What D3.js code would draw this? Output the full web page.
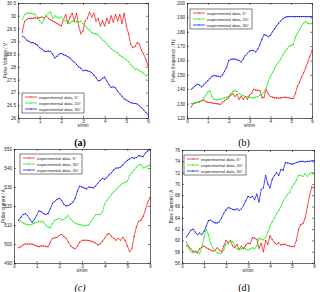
<!DOCTYPE html>
<html><head><meta charset="utf-8">
<script src="https://cdn.jsdelivr.net/npm/d3@7"></script>
<style>body{margin:0;background:#fff}svg{display:block}</style>
</head><body>
<svg id="c" width="320" height="292"></svg>
<script>
const xs=[0.2,0.3,0.4,0.5,0.6,0.7,0.8,0.9,1.0,1.1,1.2,1.3,1.4,1.5,1.6,1.7,1.8,1.9,2.0,2.1,2.2,2.3,2.4,2.5,2.6,2.7,2.8,2.9,3.0,3.1,3.2,3.3,3.4,3.5,3.6,3.7,3.8,3.9,4.0,4.1,4.2,4.3,4.4,4.5,4.6,4.7,4.8,4.9,5.0,5.1,5.2,5.3,5.4,5.5,5.6,5.7,5.8,5.9,6.0];
const xTicks=[0,1,2,3,4,5,6];

// (a) Pulse Voltage
const aRed=[29.36,29.78,29.85,29.9,29.9,29.9,29.92,29.9,29.93,29.95,29.92,30.0,29.9,29.85,29.8,29.75,29.7,29.65,29.6,29.85,30.05,29.7,29.95,30.1,29.8,30.1,29.6,29.3,29.4,29.8,29.9,30.15,29.95,30.1,29.8,29.9,29.6,29.8,29.6,29.9,29.7,30.0,29.75,30.05,29.8,30.05,29.7,30.1,29.6,29.3,28.9,28.75,28.8,28.95,28.9,28.65,28.5,28.3,28.05];
const aGreen=[29.85,30.05,30.1,30.1,30.1,30.08,30.05,29.95,29.8,29.7,29.85,30.0,30.1,30.15,29.9,30.0,29.95,29.9,29.95,29.85,29.8,29.75,29.7,29.8,29.75,29.78,29.75,29.78,29.7,29.6,29.5,29.45,29.35,29.3,29.3,29.25,29.15,29.05,29.0,28.9,28.8,28.72,28.65,28.6,28.55,28.45,28.4,28.33,28.28,28.2,28.1,28.0,27.9,27.92,27.85,27.8,27.75,27.65,27.7];
const aBlue=[29.2,29.15,29.05,29.0,28.95,28.95,28.9,28.85,28.75,28.7,28.62,28.6,28.62,28.6,28.5,28.35,28.42,28.5,28.53,28.48,28.45,28.4,28.35,28.25,28.18,28.1,28.0,27.95,27.85,27.87,27.85,27.82,27.78,27.68,27.58,27.45,27.48,27.55,27.6,27.45,27.3,27.2,27.22,27.18,27.05,26.95,26.85,26.75,26.7,26.65,26.6,26.58,26.57,26.55,26.48,26.4,26.32,26.22,26.13];
const aTicks=[26,26.5,27,27.5,28,28.5,29,29.5,30,30.5];

// (b) Pulse frequency
const bRed=[127.7,130,130.5,131,131.5,132,132.5,131.5,131,130.8,130.5,130.2,130,129.8,129.5,131,132,133,134,136,137,135,136.5,133,135,133,135,133,136,137,140,139.5,139.3,139,134,134.5,140,137,135,134.5,134,134,133.8,134,134.3,134.5,134.2,134,133.6,133.5,137,142,145,148.5,151.5,155,159,163,167];
const bGreen=[130,130.2,130.5,130.8,131,132,134,135.5,138,139,135,133,132.5,132.8,133,133.5,134,134.5,135,137,138.5,139,138.5,137,136,135.5,135,134.8,134.5,134.2,134,134.5,135,135.8,136.5,138,141,145,149,151.5,154.5,157,159,161,164,166,168,170,170.5,171,176,179,181.5,184,186,187,186,185.5,186];
const bBlue=[140,141,142.5,143.5,143,141.5,143,144.5,146,147.5,149,149.5,149.3,149,148.5,150,152.5,155,160,160.8,161,161,160.5,160,159,161,163.5,165,166.5,167,167,166,168,171,175,178,177.5,176.5,177.5,180,182,184,186,187.5,189,190,190.5,190.5,190.6,190.5,190.5,190.6,190.5,190.5,190.6,190.5,190.5,190.6,190.5];
const bTicks=[120,130,140,150,160,170,180,190,200];

// (c) Pulse current
const cRed=[498,498.5,499.5,500,500,500,500,499.5,499,498.5,499,499,498.8,498.5,501,503,503.3,503.5,504.5,505,504,503,501,499,498,497.5,499,501,502,502,502,501.8,501.5,501,500.5,499.5,500,501.5,503,505,505.5,504,503,502,503,502,503.5,502,499,496,497.5,504,509,512,512.5,514.5,518,522,524.5];
const cGreen=[512.5,512,511,510.5,510.2,510,510.5,511,511.5,512,511.8,511.5,510,509,508.5,511,512.5,513,513.5,512.5,513,514,515,513,512,511,510.5,510.2,510,509.5,509.8,510,512,513.5,515.5,515.5,515.5,517,521,523,524.5,526,527.5,528.5,530,531,532,532.5,533,536,537.5,539,540.5,541.5,542,540,540.5,541,541.5];
const cBlue=[512.5,514,515.5,516,515,513,511.5,513,515,517.5,517,516,515.5,516,518.5,521.5,522.5,523.5,524,523,521,520,520.3,521,522,524,528,530.5,530,529.5,529,530,529.8,529.5,530.5,532,533.5,534.5,534,535,536.5,537.5,539,540,540,540.5,541.5,543,544,544.8,545.5,545.2,545.5,546.5,546.3,546,548,549,549.8];
const cTicks=[490,500,510,520,530,540,550];

// (d) Base current
const dRed=[59.1,59,58.5,58.1,58,57.8,58.5,58.8,59,58.7,58.5,58.3,58.1,58.2,58.7,58.3,58,59,60,59.5,60,59,58.7,59.3,58.4,59,58.5,59.2,59.5,59.4,60.5,60.4,60.2,58.6,59.5,58,60,59.3,60.8,60.2,59.6,59.3,59.6,59.2,59.3,59.3,59.1,59,58.9,58.9,60,62,62.8,63,64,66,68,69.5,69.3];
const dGreen=[59.8,58.6,58,57.8,58.1,58,57.6,58.8,60.5,62,61,59.5,58.7,58.2,57.8,57.7,57.8,58.3,59.3,59.7,59.9,59.8,59,58.5,58.4,58.5,58.7,58.5,58.3,58.5,58.7,58.5,59,60.4,60.2,60.1,60.5,61.5,62.5,63.3,64,64.7,65.3,66,67,67.6,68.1,68.5,69.5,70,70.7,71.5,71.5,71.3,71.8,71.3,71.8,72,71.8];
const dBlue=[60.6,61.2,61.8,62,61.5,61,61.3,61,61.6,62.5,63.5,63.6,63.3,63.1,63.1,63.3,64,64.8,65.4,65.8,65.7,65.5,65.4,65.6,65.3,65.6,66.2,67,67.8,67.6,67.8,67.2,68.2,66.8,69,69.3,71.5,70,69.3,70.8,71.5,72,71.5,72.6,72.4,73.8,73.7,73.6,73.5,73.6,73.8,73.9,74,74,73.9,74,74,74.1,74.1];
const dTicks=[56,58,60,62,64,66,68,70,72,74,76];

const namesA=["experimental data, 5°","experimental data, 20°","experimental data, 30°"];
const namesC=["experimental data, 5°","experimental data, 30°","experimental data, 30°"];
const yLabels=["Pulse Voltage / V","Pulse frequency / Hz","Pulse current / A","Base Current / A"];
const captions=["(a)","(b)","(c)","(d)"];
const xLabel="s/mm";

const colors=["#ff0000","#00ee00","#0000ff"];
const svg=d3.select("#c");

const panels=[
 {box:[18,3,148,118],dom:[26,30.5],ticks:aTicks,series:[aRed,aGreen,aBlue],names:namesA,ylab:yLabels[0],ylx:4,cap:captions[0],capx:80,capy:146,leg:[22,93],bold:true},
 {box:[187,3,312,118],dom:[120,200],ticks:bTicks,series:[bRed,bGreen,bBlue],names:namesA,ylab:yLabels[1],ylx:172,cap:captions[1],capx:244,capy:146,leg:[190,9],bold:false},
 {box:[14,149,150,263],dom:[490,550],ticks:cTicks,series:[cRed,cGreen,cBlue],names:namesC,ylab:yLabels[2],ylx:2,cap:captions[2],capx:80,capy:291,leg:[20,154],bold:false,italic:true},
 {box:[182,150,314,263],dom:[56,76],ticks:dTicks,series:[dRed,dGreen,dBlue],names:namesA,ylab:yLabels[3],ylx:170,cap:captions[3],capx:244,capy:291,leg:[184,155],bold:false}
];

const fs=4.6;
const sans="Liberation Sans, Arial, sans-serif";
panels.forEach(p=>{
  const [l,t,r,b]=p.box;
  const x=d3.scaleLinear().domain([0,6]).range([l,r]);
  const y=d3.scaleLinear().domain(p.dom).range([b,t]);
  const g=svg.append("g");
  g.append("rect").attr("x",l).attr("y",t).attr("width",r-l).attr("height",b-t).attr("fill","#fff");
  p.series.forEach((s,i)=>{
    const pts=xs.map((xv,j)=>[xv,s[j]]);
    g.append("path").datum(pts).attr("fill","none").attr("stroke",colors[i]).attr("stroke-width",0.7)
      .attr("d",d3.line().x(d=>x(d[0])).y(d=>y(d[1])));
    g.selectAll(null).data(pts).enter().append("circle").attr("cx",d=>x(d[0])).attr("cy",d=>y(d[1])).attr("r",0.55).attr("fill",colors[i]);
  });
  const ax=(gen,tr)=>{const a=g.append("g").attr("transform",tr).call(gen);
    a.select(".domain").attr("stroke","#000").attr("stroke-width",0.6);
    a.selectAll(".tick line").attr("stroke","#000").attr("stroke-width",0.5);
    a.selectAll("text").attr("font-size",fs).attr("font-family",sans).attr("fill","#222");
    return a;};
  ax(d3.axisBottom(x).tickValues(xTicks).tickSizeInner(-2).tickSizeOuter(0).tickPadding(2).tickFormat(d3.format("d")),`translate(0,${b})`);
  ax(d3.axisTop(x).tickValues(xTicks).tickSizeInner(-2).tickSizeOuter(0).tickFormat(""),`translate(0,${t})`);
  ax(d3.axisLeft(y).tickValues(p.ticks).tickSizeInner(-2).tickSizeOuter(0).tickPadding(2).tickFormat(d=>String(d)),`translate(${l},0)`);
  ax(d3.axisRight(y).tickValues(p.ticks).tickSizeInner(-2).tickSizeOuter(0).tickFormat(""),`translate(${r},0)`);
  g.append("text").attr("x",(l+r)/2).attr("y",b+9).attr("text-anchor","middle").attr("font-size",fs).attr("font-family",sans).attr("fill","#222").text(xLabel);
  g.append("text").attr("transform",`translate(${p.ylx+3},${(t+b)/2}) rotate(-90)`).attr("text-anchor","middle").attr("font-size",fs).attr("font-family",sans).attr("fill","#222").text(p.ylab);
  g.append("text").attr("x",p.capx).attr("y",p.capy).attr("text-anchor","middle").attr("font-size",10)
    .attr("font-weight",p.bold?"bold":"normal").attr("font-style",p.italic?"italic":"normal")
    .attr("font-family","Liberation Serif, Times New Roman, serif").attr("fill","#000").text(p.cap);
  const [lx,ly]=p.leg, lw=62, lh=20;
  const lg=g.append("g");
  lg.append("rect").attr("x",lx).attr("y",ly).attr("width",lw).attr("height",lh).attr("fill","#fff").attr("stroke","#000").attr("stroke-width",0.5);
  p.names.forEach((n,i)=>{
    const yy=ly+4+i*6;
    lg.append("line").attr("x1",lx+3).attr("x2",lx+15).attr("y1",yy).attr("y2",yy).attr("stroke",colors[i]).attr("stroke-width",0.7);
    lg.append("circle").attr("cx",lx+9).attr("cy",yy).attr("r",0.6).attr("fill",colors[i]);
    lg.append("text").attr("x",lx+17).attr("y",yy+1.5).attr("font-size",4.2).attr("font-family",sans).attr("fill","#222").text(n);
  });
});
</script>
</body></html>
